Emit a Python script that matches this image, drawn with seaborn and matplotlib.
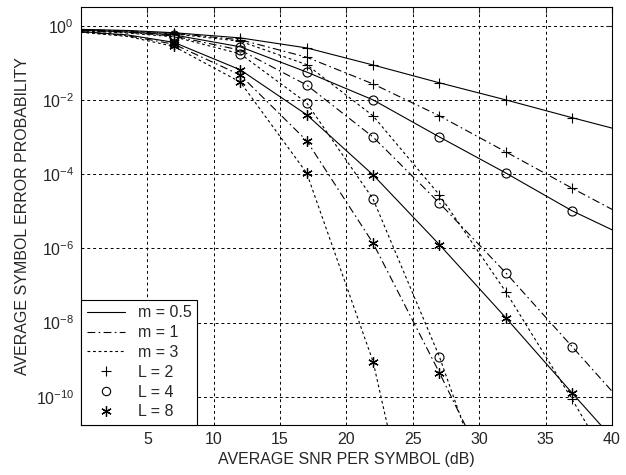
import numpy as np
import matplotlib
matplotlib.use("Agg")
import matplotlib.pyplot as plt
import seaborn as sns
from matplotlib.lines import Line2D

# SNR grid (dB) and marker positions
snr_db = [0, 3.5, 7, 12, 17, 22, 27, 32, 37, 40]
marker_db = [7, 12, 17, 22, 27, 32, 37]

# log10 of symbol error probability
# m = 0.5 (solid)
log_m05_L2 = [-0.10, -0.13, -0.19, -0.33, -0.60, -1.06, -1.54, -2.00, -2.48, -2.76]
log_m05_L4 = [-0.12, -0.17, -0.25, -0.57, -1.25, -2.00, -3.00, -3.97, -4.99, -5.50]
log_m05_L8 = [-0.16, -0.25, -0.45, -1.19, -2.40, -4.02, -5.90, -7.87, -9.90, -11.10]
# m = 1 (dash-dot)
log_m1_L2 = [-0.11, -0.14, -0.21, -0.38, -0.85, -1.57, -2.43, -3.40, -4.38, -4.95]
log_m1_L4 = [-0.13, -0.18, -0.28, -0.66, -1.60, -3.00, -4.78, -6.66, -8.65, -9.85]
log_m1_L8 = [-0.17, -0.27, -0.50, -1.33, -3.10, -5.86, -9.35, -13.0, np.nan, np.nan]
# m = 3 (dotted)
log_m3_L2 = [-0.12, -0.15, -0.22, -0.42, -1.05, -2.43, -4.56, -7.17, -10.07, -11.90]
log_m3_L4 = [-0.14, -0.20, -0.30, -0.76, -2.08, -4.67, -8.92, -14.0, np.nan, np.nan]
log_m3_L8 = [-0.18, -0.29, -0.56, -1.52, -3.97, -9.05, -17.0, np.nan, np.nan, np.nan]

curves = [
    ("-", "+", log_m05_L2), ("-", "o", log_m05_L4), ("-", "*", log_m05_L8),
    ("-.", "+", log_m1_L2), ("-.", "o", log_m1_L4), ("-.", "*", log_m1_L8),
    (":", "+", log_m3_L2), (":", "o", log_m3_L4), (":", "*", log_m3_L8),
]

sns.set_style("white")
plt.rcParams['font.family'] = ['Liberation Sans', 'DejaVu Sans']
plt.rcParams['mathtext.default'] = 'regular'

ls_map = {"-": "-", "-.": (0, (7, 3, 1.5, 3)), ":": (0, (2.5, 2.5))}
asterisk = (6, 2, 0)
y_lo, y_hi = 10 ** -10.76, 10 ** 0.503
fs = 11.5

fig = plt.figure(figsize=(6.26, 4.75), dpi=100)
ax = fig.add_axes([0.1294, 0.1053, 0.8482, 0.8800])

for ls, mk, logs in curves:
    x = np.array(snr_db, dtype=float)
    y = 10 ** np.array(logs, dtype=float)
    ok = ~np.isnan(y)
    sns.lineplot(x=x[ok], y=y[ok], ax=ax, color="black", linewidth=0.8,
                 linestyle=ls_map[ls], sort=False, estimator=None)
    idx = [snr_db.index(v) for v in marker_db]
    xm = x[idx]
    ym = y[idx]
    keep = (~np.isnan(ym)) & (ym > y_lo)
    if mk == "o":
        ax.plot(xm[keep], ym[keep], linestyle="none", marker="o", ms=6.5,
                mfc="none", mec="black", mew=0.8)
    elif mk == "*":
        ax.plot(xm[keep], ym[keep], linestyle="none", marker=asterisk, ms=7.5,
                color="black", mew=0.9)
    else:
        ax.plot(xm[keep], ym[keep], linestyle="none", marker="+", ms=7.5,
                color="black", mew=0.8)

ax.set_yscale("log")
ax.set_xlim(0, 40)
ax.set_ylim(y_lo, y_hi)
ax.set_xticks([5, 10, 15, 20, 25, 30, 35, 40])
ax.set_yticks([1e-10, 1e-8, 1e-6, 1e-4, 1e-2, 1e0])
ax.yaxis.set_minor_locator(matplotlib.ticker.NullLocator())
ax.tick_params(direction="in", top=True, right=True, length=4, labelsize=fs, pad=5)
ax.grid(True, color="black", linestyle=(0, (3, 3)), linewidth=0.7)
for s in ax.spines.values():
    s.set_color("black")
    s.set_linewidth(0.8)

ax.set_xlabel("AVERAGE SNR PER SYMBOL (dB)", fontsize=fs, labelpad=4)
ax.set_ylabel("AVERAGE SYMBOL ERROR PROBABILITY", fontsize=fs, labelpad=4)

handles = [
    Line2D([], [], color="black", lw=0.8, linestyle=ls_map["-"]),
    Line2D([], [], color="black", lw=0.8, linestyle=ls_map["-."]),
    Line2D([], [], color="black", lw=0.8, linestyle=ls_map[":"]),
    Line2D([], [], color="black", ls="none", marker="+", ms=7.5, mew=0.8),
    Line2D([], [], color="black", ls="none", marker="o", ms=6, mfc="none", mew=0.8),
    Line2D([], [], color="black", ls="none", marker=asterisk, ms=7.5, mew=0.9),
]
labels = ["m = 0.5", "m = 1", "m = 3", "L = 2", "L = 4", "L = 8"]
leg = ax.legend(handles, labels, loc="lower left", borderaxespad=0, fancybox=False,
                framealpha=1, edgecolor="black", fontsize=fs, handlelength=2.4,
                labelspacing=0.3, borderpad=0.35, handletextpad=0.8)
leg.get_frame().set_linewidth(0.8)

fig.savefig("out.png", dpi=100)
